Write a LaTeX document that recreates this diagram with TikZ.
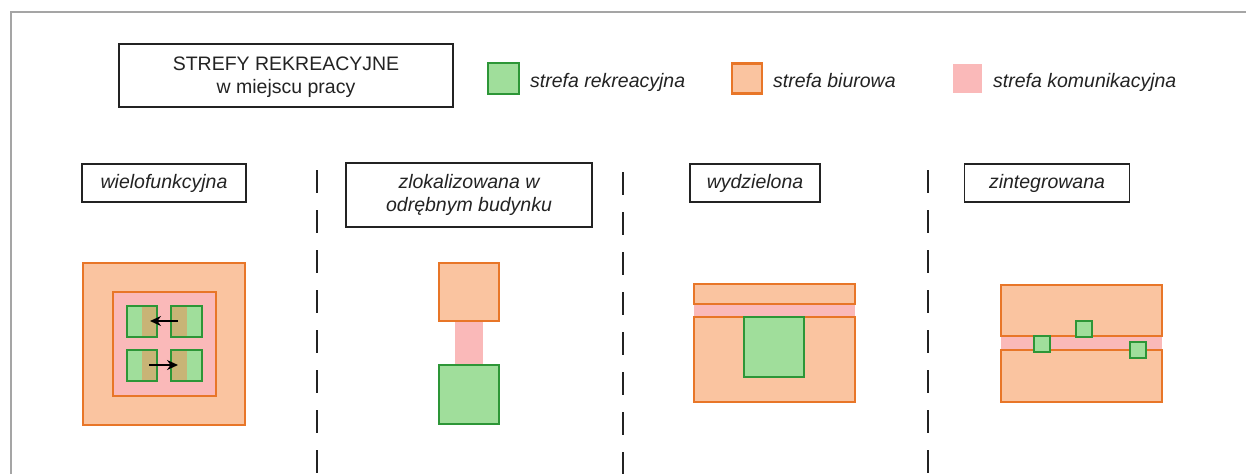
\documentclass[tikz,border=0pt]{standalone}
\usepackage{fontspec}
\setmainfont{Liberation Sans}
\usetikzlibrary{arrows.meta}
\definecolor{orbd}{RGB}{232,118,40}
\definecolor{orfill}{RGB}{250,196,160}
\definecolor{grbd}{RGB}{45,150,55}
\definecolor{grfill}{RGB}{160,222,155}
\definecolor{pinkfill}{RGB}{250,185,185}
\definecolor{tanfill}{RGB}{200,180,118}
\definecolor{txt}{RGB}{35,35,35}
\definecolor{framegray}{RGB}{165,165,165}
\begin{document}
\begin{tikzpicture}[x=1pt,y=-1pt,
 lbl/.style={draw=txt, line width=1.8pt, fill=white, inner sep=0pt, font=\fontsize{19.5}{23}\selectfont\itshape, text=txt, align=center},
 office/.style={draw=orbd, fill=orfill, line width=2.8pt},
 rec/.style={draw=grbd, fill=grfill, line width=2.8pt},
 comm/.style={fill=pinkfill},
 divider/.style={draw=txt, line width=1.8pt, dash pattern=on 23pt off 17pt},
 legtxt/.style={anchor=base west, font=\fontsize{19.5}{23}\selectfont\itshape, text=txt, inner sep=0pt},
 arr/.style={-{Stealth[length=11pt,width=10pt]}, line width=2.2pt, black}
]
\useasboundingbox (0,0) rectangle (1246,474);
\fill[white] (0,0) rectangle (1246,474);
\draw[framegray, line width=1.5pt] (11,474) -- (11,12) -- (1246,12);

% title
\node[lbl, font=\fontsize{19.5}{23}\selectfont, minimum width=334pt, minimum height=63pt] (title) at (286,75.5) {};
\node[font=\fontsize{19.5}{23}\selectfont, text=txt, align=center, inner sep=0pt] (titletext) at (286,77.5) {STREFY REKREACYJNE\\w miejscu pracy};

% legend
\node[rec, minimum size=31pt, inner sep=0pt] (lgr) at (503.5,78.5) {};
\node[legtxt] (lgrt) at (530,87) {strefa rekreacyjna};
\node[office, minimum size=30pt, inner sep=0pt] (lor) at (747,78.5) {};
\node[legtxt] (lort) at (773,87) {strefa biurowa};
\node[comm, minimum size=29pt, inner sep=0pt] (lpk) at (967.5,78.5) {};
\node[legtxt] (lpkt) at (993,87) {strefa komunikacyjna};

% category labels
\node[lbl, minimum width=164pt, minimum height=38pt] (c1) at (164,183) {wielofunkcyjna};
\node[lbl, minimum width=246pt, minimum height=64pt] (c2) at (469,195) {zlokalizowana w\\odrębnym budynku};
\node[lbl, minimum width=130pt, minimum height=38pt] (c3) at (755,183) {wydzielona};
\node[lbl, minimum width=165pt, minimum height=38pt] (c4) at (1047,183) {zintegrowana};

% dividers
\draw[divider] (317,170) -- (317,474);
\draw[divider] (623,172) -- (623,474);
\draw[divider] (928,170) -- (928,474);

% diagram 1
\draw[office] (83,263) rectangle (245,425);
\draw[draw=orbd, fill=pinkfill, line width=2.8pt] (113,292) rectangle (216,396);
\foreach \xa/\xb/\ya/\yb/\ta/\tb in {127/157/306/337/142/157, 171/202/306/337/171/187, 127/157/350/381/142/157, 171/202/350/381/171/187}{
  \fill[grfill] (\xa,\ya) rectangle (\xb,\yb);
  \fill[tanfill] (\ta,\ya) rectangle (\tb,\yb);
  \draw[grbd, line width=2.8pt] (\xa,\ya) rectangle (\xb,\yb);
}
\coordinate (a1s) at (178,321);
\coordinate (a1e) at (150,321);
\coordinate (a2s) at (149,365);
\coordinate (a2e) at (178,365);
\draw[arr] (a1s) -- (a1e);
\draw[arr] (a2s) -- (a2e);

% diagram 2
\fill[pinkfill] (455,321) rectangle (483,365);
\draw[office] (439,263) rectangle (499,321);
\draw[rec] (439,365) rectangle (499,424);

% diagram 3
\fill[pinkfill] (694,304) rectangle (855,317);
\draw[office] (694,284) rectangle (855,304);
\draw[office] (694,317) rectangle (855,402);
\draw[rec] (744,317) rectangle (804,377);

% diagram 4
\fill[pinkfill] (1001,336) rectangle (1162,350);
\draw[office] (1001,285) rectangle (1162,336);
\draw[office] (1001,350) rectangle (1162,402);
\foreach \cx/\cy in {1042/344, 1084/329, 1138/350}{
  \draw[rec] (\cx-8,\cy-8) rectangle (\cx+8,\cy+8);
}
\end{tikzpicture}
\end{document}
